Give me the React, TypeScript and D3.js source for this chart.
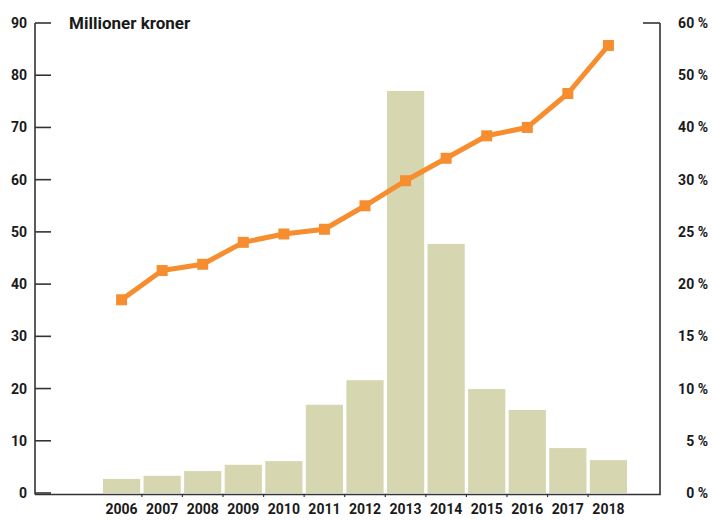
import React from "react";
import * as d3 from "d3";

const years = ["2006","2007","2008","2009","2010","2011","2012","2013","2014","2015","2016","2017","2018"];
const amounts = [2.7, 3.3, 4.2, 5.4, 6.1, 16.9, 21.6, 77.0, 47.7, 19.9, 15.9, 8.6, 6.3];
const shares = [18.5, 21.3, 21.9, 24.0, 24.8, 25.25, 27.5, 29.9, 34.1, 38.4, 40.0, 46.5, 55.7];
const leftTicks = [0, 10, 20, 30, 40, 50, 60, 70, 80, 90];
const rightTicks = [0, 5, 10, 15, 20, 25, 30, 40, 50, 60];
const title = "Millioner kroner";

const W = 712, H = 520;
const axisLeft = 35, axisRight = 660, yTop = 23, yBottom = 493;

export default function App() {
  const x = d3.scaleBand<string>().domain(years).range([101.3, 628.7]).paddingInner(0.083).paddingOuter(0.0415);
  const y = d3.scaleLinear().domain([0, 90]).range([yBottom, yTop]);
  const step = (yBottom - yTop) / (rightTicks.length - 1);
  const yR = d3.scaleLinear().domain(rightTicks).range(rightTicks.map((_, i) => yBottom - i * step));
  const line = d3.line<number>().x((_, i) => (x(years[i]) as number) + x.bandwidth() / 2).y(d => yR(d));
  const font = "Roboto, 'DejaVu Sans', sans-serif";
  const txt = "#1a1a1a";
  const orange = "#F68D2E";
  const gaps = years.slice(1).map(yr => (x(yr) as number) - (x.step() - x.bandwidth()) / 2);
  return (
    <svg width={W} height={H} style={{ position: "absolute", left: 0, top: 0, background: "#fff" }} fontFamily={font}>
      {years.map((yr, i) => (
        <rect key={yr} x={x(yr)} y={y(amounts[i])} width={x.bandwidth()} height={yBottom - y(amounts[i])} fill="#D6D6B1" />
      ))}
      {/* axes */}
      <line x1={axisLeft} x2={axisLeft} y1={yTop} y2={yBottom + 1.5} stroke="#333" strokeWidth={1.6} />
      <line x1={axisRight} x2={axisRight} y1={yTop} y2={yBottom + 1.5} stroke="#333" strokeWidth={1.6} />
      <line x1={axisLeft} x2={axisRight + 0.8} y1={yBottom + 1.5} y2={yBottom + 1.5} stroke="#333" strokeWidth={1.6} />
      <line x1={axisRight - 17} x2={axisRight} y1={yTop} y2={yTop} stroke="#333" strokeWidth={1.6} />
      {gaps.map((g, i) => (
        <line key={i} x1={g} x2={g} y1={yBottom + 1.5} y2={yBottom + 4} stroke="#333" strokeWidth={1.2} />
      ))}
      {leftTicks.map(t => (
        <g key={t}>
          <line x1={axisLeft} x2={axisLeft + 16} y1={y(t)} y2={y(t)} stroke="#333" strokeWidth={1.6} />
          <text x={27} y={y(t)} dy="0.36em" textAnchor="end" fontSize={14} fontWeight="bold" fill={txt}>{t}</text>
        </g>
      ))}
      {rightTicks.map(t => (
        <text key={t} x={708} y={yR(t)} dy="0.36em" textAnchor="end" fontSize={14} fontWeight="bold" fill={txt}>{`${t} %`}</text>
      ))}
      {years.map(yr => (
        <text key={yr} x={(x(yr) as number) + x.bandwidth() / 2} y={514} textAnchor="middle" fontSize={14} fontWeight="bold" fill={txt}>{yr}</text>
      ))}
      <text x={69} y={29} fontSize={17} fontWeight="bold" fill={txt}>{title}</text>
      <path d={line(shares) as string} fill="none" stroke={orange} strokeWidth={5} strokeLinejoin="round" />
      {shares.map((s, i) => (
        <rect key={i} x={(x(years[i]) as number) + x.bandwidth() / 2 - 5.5} y={yR(s) - 5.5} width={11} height={11} fill={orange} />
      ))}
    </svg>
  );
}
